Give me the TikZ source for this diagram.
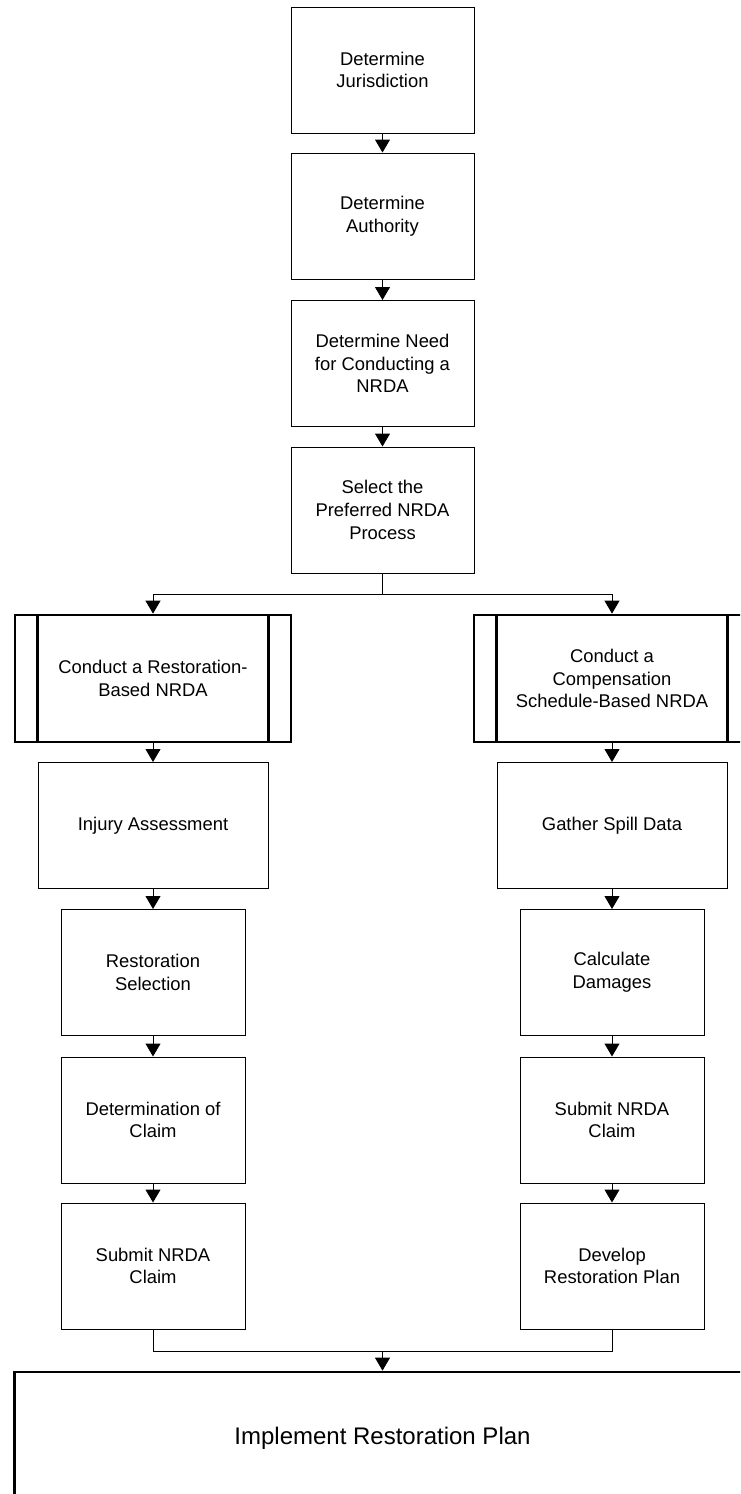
\documentclass[tikz,border=0pt]{standalone}
\usepackage{fontspec}
\setmainfont{Liberation Sans}
\usetikzlibrary{arrows.meta}

\tikzset{
  box/.style={draw, line width=1pt, minimum width=183pt, minimum height=126pt, align=center, inner sep=2pt},
  widebox/.style={box, minimum width=230pt},
  smallbox/.style={box, minimum width=184pt},
  subproc/.style={box, line width=2.75pt, minimum width=276pt, minimum height=127pt},
  flow/.style={line width=1pt, -{Triangle[width=15pt,length=13pt]}},
  link/.style={line width=1pt}
}

\begin{document}
\begin{tikzpicture}[x=1pt, y=-1pt, font=\fontsize{18.4}{22.6}\selectfont]
    \useasboundingbox (0,0) rectangle (740,1494);
    \clip (0,0) rectangle (740,1494);

    % Common steps
    \node[box] (jur) at (382.5,70) {Determine\\Jurisdiction};
    \node[box] (auth) at (382.5,216) {Determine\\Authority};
    \node[box] (need) at (382.5,363.5) {Determine Need\\for Conducting a\\NRDA};
    \node[box] (sel) at (382.5,510) {Select the\\Preferred NRDA\\Process};

    % The two NRDA processes
    \node[subproc] (restor) at (153,678.5) {Conduct a Restoration-\\Based NRDA};
    \node[subproc] (comp) at (612,678.5) {Conduct a\\Compensation\\Schedule-Based NRDA};
    \foreach \n in {restor, comp} {
        \draw[line width=2.75pt] ([xshift=24pt]\n.north west) -- ([xshift=24pt]\n.south west);
        \draw[line width=2.75pt] ([xshift=-24pt]\n.north east) -- ([xshift=-24pt]\n.south east);
    }

    % Restoration-based branch
    \node[widebox] (injury) at (153,825.5) {Injury Assessment};
    \node[smallbox] (rsel) at (153,972.5) {Restoration\\Selection};
    \node[smallbox] (claim) at (153,1120) {Determination of\\Claim};
    \node[smallbox] (lsubmit) at (153,1266) {Submit NRDA\\Claim};

    % Compensation schedule branch
    \node[widebox] (spill) at (612,825.5) {Gather Spill Data};
    \node[smallbox] (calc) at (612,972.5) {Calculate\\Damages};
    \node[smallbox] (rsubmit) at (612,1120) {Submit NRDA\\Claim};
    \node[smallbox] (devplan) at (612,1266) {Develop\\Restoration Plan};

    % Final step
    \node[box, line width=2.75pt, minimum width=736pt, minimum height=132pt, font=\fontsize{24}{28}\selectfont] (impl) at (382.5,1438) {Implement Restoration Plan};

    % Straight connections
    \foreach \a/\b in {jur/auth, auth/need, need/sel, restor/injury, injury/rsel, rsel/claim, claim/lsubmit, comp/spill, spill/calc, calc/rsubmit, rsubmit/devplan} {
        \draw[flow] (\a) -- (\b);
    }

    % Split and merge
    \coordinate (split) at (382.5,594);
    \draw[link] (sel) -- (split);
    \draw[flow] (split) -| (restor);
    \draw[flow] (split) -| (comp);

    \coordinate (merge) at (382.5,1351);
    \draw[link] (lsubmit) |- (merge) -| (devplan);
    \draw[flow] (merge) -- (impl);
\end{tikzpicture}
\end{document}
